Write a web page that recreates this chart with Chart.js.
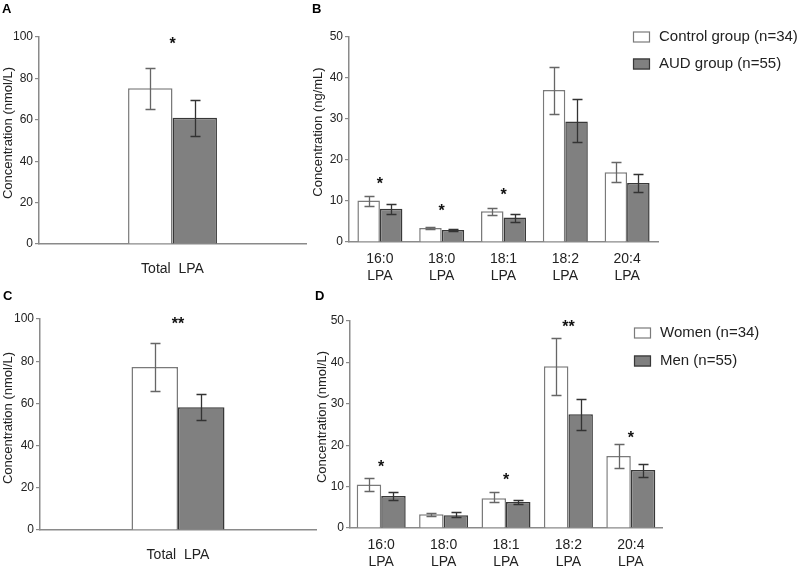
<!DOCTYPE html>
<html>
<head>
<meta charset="utf-8">
<script src="https://cdn.jsdelivr.net/npm/chart.js@4.4.1/dist/chart.umd.min.js"></script>
<style>
  body { margin: 0; background: #fff; }
  canvas { position: absolute; }
</style>
</head>
<body>
<canvas id="panelA" width="320" height="285" style="left:0;top:0"></canvas>
<canvas id="panelB" width="489" height="285" style="left:310px;top:0"></canvas>
<canvas id="panelC" width="320" height="286" style="left:0;top:285px"></canvas>
<canvas id="panelD" width="489" height="286" style="left:310px;top:285px"></canvas>
<script>
// ---- data ----
const totalLabels = ['Total  LPA'];
const speciesLabels = [['16:0', 'LPA'], ['18:0', 'LPA'], ['18:1', 'LPA'], ['18:2', 'LPA'], ['20:4', 'LPA']];

const groupNames = ['Control group (n=34)', 'AUD group (n=55)'];
const sexNames = ['Women (n=34)', 'Men (n=55)'];

// A: total LPA, control vs AUD (nmol/L)
const ctrlTotal = [75.2], ctrlTotalHi = [84.8], ctrlTotalLo = [65.4];
const audTotal = [61.0], audTotalHi = [69.5], audTotalLo = [52.3];
const starsA = ['*'], starLevelA = [98.5];

// B: LPA species, control vs AUD (ng/mL)
const ctrlSpecies = [10.1, 3.4, 7.5, 37.1, 17.0];
const ctrlSpeciesHi = [11.3, 3.7, 8.2, 42.8, 19.4];
const ctrlSpeciesLo = [8.8, 3.1, 6.6, 31.3, 14.6];
const audSpecies = [8.1, 2.9, 6.0, 29.4, 14.4];
const audSpeciesHi = [9.2, 3.1, 6.8, 34.8, 16.5];
const audSpeciesLo = [6.8, 2.7, 5.0, 24.3, 12.2];
const starsB = ['*', '*', '*', '', ''], starLevelB = [15.1, 8.5, 12.4, null, null];

// C: total LPA, women vs men (nmol/L)
const womenTotal = [77.2], womenTotalHi = [88.6], womenTotalLo = [65.7];
const menTotal = [58.2], menTotalHi = [64.6], menTotalLo = [52.1];
const starsC = ['**'], starLevelC = [99.4];

// D: LPA species, women vs men (nmol/L)
const womenSpecies = [10.5, 3.3, 7.2, 39.1, 17.4];
const womenSpeciesHi = [12.1, 3.6, 8.7, 45.9, 20.3];
const womenSpeciesLo = [8.9, 3.0, 6.3, 32.2, 14.6];
const menSpecies = [7.7, 3.1, 6.3, 27.5, 14.0];
const menSpeciesHi = [8.6, 3.9, 6.75, 31.1, 15.4];
const menSpeciesLo = [6.8, 2.65, 5.7, 23.6, 12.3];
const starsD = ['*', '', '*', '**', '*'], starLevelD = [15.6, null, 12.5, 49.6, 22.7];

// ---- styling ----
const FONT = 'Arial, "Liberation Sans", Helvetica, sans-serif';
const AXIS = '#8a8a8a';
const TEXT = '#222';
const WHITE_BORDER = '#7a7a7a';
const GREY_FILL = '#808080';
const GREY_BORDER = '#383838';

function extrasPlugin(p) {
  return {
    id: 'extras',
    afterDatasetsDraw(chart) {
      const ctx = chart.ctx, y = chart.scales.y, x = chart.scales.x;
      ctx.save();
      ctx.lineWidth = 1.3;
      p.errors.forEach((err, i) => {
        ctx.strokeStyle = err.color;
        chart.getDatasetMeta(i).data.forEach((bar, j) => {
          const top = Math.round(y.getPixelForValue(err.hi[j])) + 0.5;
          const bot = Math.round(y.getPixelForValue(err.lo[j])) + 0.5;
          const cx = Math.round(bar.x) + 0.5;
          ctx.beginPath();
          ctx.moveTo(cx, top); ctx.lineTo(cx, bot);
          ctx.moveTo(cx - 5, top); ctx.lineTo(cx + 5, top);
          ctx.moveTo(cx - 5, bot); ctx.lineTo(cx + 5, bot);
          ctx.stroke();
        });
      });
      // significance stars
      ctx.fillStyle = '#111';
      ctx.font = 'bold 16px ' + FONT;
      ctx.textAlign = 'center';
      ctx.textBaseline = 'alphabetic';
      p.stars.forEach((s, j) => {
        if (!s) return;
        ctx.fillText(s, x.getPixelForValue(j), y.getPixelForValue(p.starLevels[j]) + 9);
      });
      ctx.restore();
    },
    afterDraw(chart) {
      const ctx = chart.ctx;
      ctx.save();
      // panel letter
      ctx.fillStyle = '#000';
      ctx.font = 'bold 13px ' + FONT;
      ctx.textAlign = 'left';
      ctx.textBaseline = 'alphabetic';
      ctx.fillText(p.letter, p.letterX, p.letterY);
      // y axis title (sits a little above the axis middle in the original)
      ctx.save();
      ctx.translate(p.titleX, p.titleY);
      ctx.rotate(-Math.PI / 2);
      ctx.font = '13px ' + FONT;
      ctx.fillStyle = TEXT;
      ctx.textAlign = 'center';
      ctx.textBaseline = 'middle';
      ctx.fillText(p.yTitle, 0, 0);
      ctx.restore();
      // legend
      if (p.legend) {
        ctx.font = '15px ' + FONT;
        ctx.textBaseline = 'middle';
        chart.data.datasets.forEach((ds, i) => {
          const cy = p.legend.y + i * p.legend.gap;
          ctx.fillStyle = ds.backgroundColor;
          ctx.fillRect(p.legend.x, cy - 5.5, 17, 11);
          ctx.strokeStyle = ds.borderColor;
          ctx.lineWidth = 1.2;
          ctx.strokeRect(p.legend.x + 0.5, cy - 5, 16, 10);
          ctx.fillStyle = TEXT;
          ctx.fillText(ds.label, p.legend.x + 26, cy);
        });
      }
      ctx.restore();
    }
  };
}

function makePanel(id, o) {
  new Chart(document.getElementById(id), {
    type: 'bar',
    data: {
      labels: o.labels,
      datasets: [
        { label: o.names[0], data: o.first, backgroundColor: '#ffffff', borderColor: WHITE_BORDER, borderWidth: 1.5 },
        { label: o.names[1], data: o.second, backgroundColor: GREY_FILL, borderColor: GREY_BORDER, borderWidth: 1.5 }
      ]
    },
    options: {
      responsive: false,
      animation: false,
      datasets: { bar: { categoryPercentage: o.catPct, barPercentage: 1 } },
      layout: { padding: { top: o.top, right: o.right, left: 0, bottom: 0 } },
      plugins: { legend: { display: false }, tooltip: { enabled: false } },
      scales: {
        x: {
          grid: { display: false, drawTicks: false },
          border: { display: true, color: AXIS, width: 1.5 },
          ticks: { color: TEXT, font: { family: FONT, size: 14 }, padding: o.xPad, maxRotation: 0, autoSkip: false },
          afterFit: s => { s.height = o.xh; }
        },
        y: {
          min: 0, max: o.max,
          grid: { display: true, drawOnChartArea: false, drawTicks: true, tickLength: 4, color: AXIS, lineWidth: 1.2 },
          border: { display: true, color: AXIS, width: 1.5 },
          ticks: { stepSize: o.max / 5, color: TEXT, font: { family: FONT, size: 12 }, padding: 2 },
          title: { display: false },
          afterFit: s => { s.width = o.yw; }
        }
      }
    },
    plugins: [extrasPlugin(Object.assign({ yTitle: o.yTitle }, o.extras))]
  });
}

makePanel('panelA', {
  labels: totalLabels, names: groupNames, first: ctrlTotal, second: audTotal,
  catPct: 0.333, top: 37, right: 14, xh: 41, yw: 39, xPad: 17, max: 100,
  yTitle: 'Concentration (nmol/L)',
  extras: {
    errors: [{ hi: ctrlTotalHi, lo: ctrlTotalLo, color: '#666' }, { hi: audTotalHi, lo: audTotalLo, color: '#333' }],
    stars: starsA, starLevels: starLevelA, letter: 'A', letterX: 2, letterY: 13,
    titleX: 8, titleY: 133
  }
});

makePanel('panelB', {
  labels: speciesLabels, names: groupNames, first: ctrlSpecies, second: audSpecies,
  catPct: 0.728, top: 37, right: 489 - 348, xh: 43, yw: 39, xPad: 8.6, max: 50,
  yTitle: 'Concentration (ng/mL)',
  extras: {
    errors: [{ hi: ctrlSpeciesHi, lo: ctrlSpeciesLo, color: '#666' }, { hi: audSpeciesHi, lo: audSpeciesLo, color: '#333' }],
    stars: starsB, starLevels: starLevelB, letter: 'B', letterX: 2, letterY: 13,
    titleX: 8, titleY: 132,
    legend: { x: 323, y: 37, gap: 27 }
  }
});

makePanel('panelC', {
  labels: totalLabels, names: sexNames, first: womenTotal, second: menTotal,
  catPct: 0.337, top: 34, right: 4, xh: 41, yw: 40, xPad: 17, max: 100,
  yTitle: 'Concentration (nmol/L)',
  extras: {
    errors: [{ hi: womenTotalHi, lo: womenTotalLo, color: '#666' }, { hi: menTotalHi, lo: menTotalLo, color: '#333' }],
    stars: starsC, starLevels: starLevelC, letter: 'C', letterX: 3, letterY: 15,
    titleX: 8, titleY: 133
  }
});

makePanel('panelD', {
  labels: speciesLabels, names: sexNames, first: womenSpecies, second: menSpecies,
  catPct: 0.785, top: 36, right: 489 - 352, xh: 43, yw: 40, xPad: 8.6, max: 50,
  yTitle: 'Concentration (nmol/L)',
  extras: {
    errors: [{ hi: womenSpeciesHi, lo: womenSpeciesLo, color: '#666' }, { hi: menSpeciesHi, lo: menSpeciesLo, color: '#333' }],
    stars: starsD, starLevels: starLevelD, letter: 'D', letterX: 5, letterY: 15,
    titleX: 12, titleY: 132,
    legend: { x: 324, y: 48, gap: 28 }
  }
});
</script>
</body>
</html>
